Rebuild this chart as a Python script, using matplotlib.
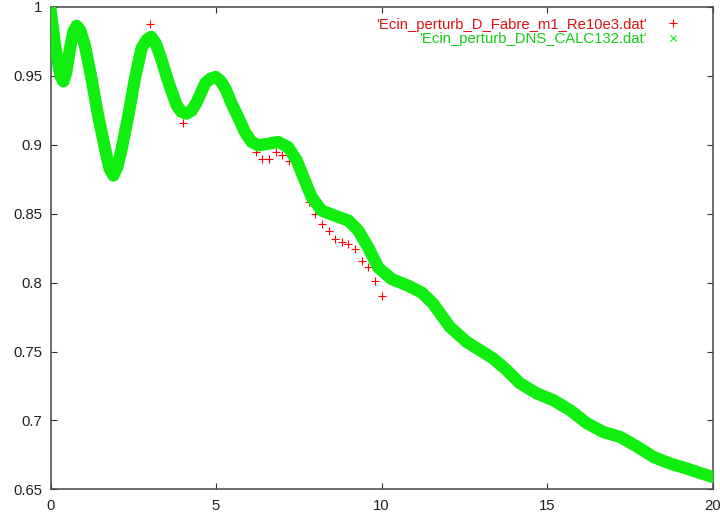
import matplotlib
matplotlib.use("Agg")
import matplotlib.pyplot as plt
from matplotlib.lines import Line2D

# ---------------- data ----------------
fabre_x = [0.0, 0.2, 0.4, 0.6, 0.8, 1.0, 1.2, 1.4, 1.6, 1.8,
           2.0, 2.2, 2.4, 2.6, 2.8, 3.0, 3.2, 3.4, 3.6, 3.8,
           4.0, 4.2, 4.4, 4.6, 4.8, 5.0, 5.2, 5.4, 5.6, 5.8,
           6.0, 6.2, 6.4, 6.6, 6.8, 7.0, 7.2, 7.4, 7.6, 7.8,
           8.0, 8.2, 8.4, 8.6, 8.8, 9.0, 9.2, 9.4, 9.6, 9.8, 10.0]
fabre_y = [1.000, 0.962, 0.946, 0.970, 0.9864, 0.975, 0.953, 0.926, 0.902, 0.882,
           0.884, 0.902, 0.927, 0.953, 0.972, 0.9876, 0.971, 0.958, 0.943, 0.929,
           0.9158, 0.924, 0.931, 0.941, 0.948, 0.949, 0.943, 0.934, 0.922, 0.913,
           0.904, 0.8947, 0.8899, 0.8899, 0.8947, 0.8923, 0.8886, 0.888, 0.877, 0.8583,
           0.8499, 0.8426, 0.8377, 0.8317, 0.8292, 0.828, 0.8244, 0.8159, 0.811, 0.8008, 0.7904]

dns_x = [0.0, 0.14, 0.30, 0.39, 0.48, 0.59, 0.69, 0.79, 0.90, 1.04,
         1.24, 1.44, 1.65, 1.78, 1.90, 2.02, 2.15, 2.35, 2.55, 2.75,
         2.90, 3.04, 3.17, 3.31, 3.56, 3.81, 3.95, 4.11, 4.27, 4.42,
         4.67, 4.83, 4.99, 5.15, 5.30, 5.47, 5.67, 5.88, 6.08, 6.28,
         6.58, 6.88, 7.18, 7.44, 7.64, 7.89, 8.19, 8.59, 9.00, 9.30,
         9.60, 9.90, 10.31, 10.81, 11.21, 11.55, 12.06, 12.57, 12.97, 13.37,
         13.78, 14.18, 14.69, 15.19, 15.70, 16.20, 16.70, 17.21, 17.72, 18.22,
         18.73, 19.23, 19.60, 20.0]
dns_y = [0.998, 0.972, 0.950, 0.946, 0.953, 0.970, 0.982, 0.9864, 0.983, 0.972,
         0.948, 0.921, 0.897, 0.883, 0.8777, 0.884, 0.897, 0.921, 0.948, 0.970,
         0.976, 0.9784, 0.974, 0.965, 0.9457, 0.9287, 0.924, 0.9226, 0.925, 0.931,
         0.9445, 0.948, 0.9493, 0.946, 0.940, 0.930, 0.920, 0.909, 0.902, 0.8996,
         0.9008, 0.902, 0.8983, 0.8886, 0.8765, 0.862, 0.8523, 0.8486, 0.845, 0.8377,
         0.8255, 0.811, 0.8025, 0.7977, 0.7928, 0.785, 0.768, 0.757, 0.751, 0.745,
         0.7365, 0.727, 0.7196, 0.7147, 0.7074, 0.698, 0.6916, 0.688, 0.681, 0.6734,
         0.6686, 0.665, 0.662, 0.659]

labels = ["'Ecin_perturb_D_Fabre_m1_Re10e3.dat'", "'Ecin_perturb_DNS_CALC132.dat'"]
xticks = [0, 5, 10, 15, 20]
xticklabels = ["0", "5", "10", "15", "20"]
yticks = [0.65, 0.7, 0.75, 0.8, 0.85, 0.9, 0.95, 1.0]
yticklabels = ["0.65", "0.7", "0.75", "0.8", "0.85", "0.9", "0.95", "1"]

# ---------------- style ----------------
RED = "#ff0000"
GREEN = "#10ee10"
FS = 10.7
plt.rcParams['font.family'] = ['Liberation Sans', 'DejaVu Sans']

fig = plt.figure(figsize=(7.2, 5.15), dpi=100)
W, H = 720.0, 515.0
L, R, T, B = 50.5, 712.5, 7.0, 489.3
ax = fig.add_axes([L / W, 1 - B / H, (R - L) / W, (B - T) / H])

ax.plot(fabre_x, fabre_y, ls='none', marker='+', ms=5.5, mew=0.8,
        color=RED, zorder=2)
ax.plot(dns_x, dns_y, ls='-', lw=8.8, color=GREEN, solid_capstyle='round',
        solid_joinstyle='round', zorder=3)

ax.set_xlim(0, 20)
ax.set_ylim(0.65, 1.0)
ax.set_xticks(xticks)
ax.set_xticklabels(xticklabels)
ax.set_yticks(yticks)
ax.set_yticklabels(yticklabels)
ax.tick_params(direction='in', length=4.5, width=0.8, colors='#333333',
               labelcolor='#222222', labelsize=FS, top=True, right=True,
               pad=6)
ax.tick_params(axis='x', pad=7)
for s in ax.spines.values():
    s.set_color('#444444')
    s.set_linewidth(1.1)

handles = [Line2D([], [], ls='none', marker='+', ms=5.5, mew=0.8, color=RED),
           Line2D([], [], ls='none', marker='x', ms=4.5, mew=0.8, color=GREEN)]
leg = ax.legend(handles, labels, loc='upper right', frameon=False,
                markerfirst=False, fontsize=FS, handlelength=1.0,
                handletextpad=1.27, borderpad=0, borderaxespad=0,
                labelspacing=0.03,
                bbox_to_anchor=(680.7 / W, 1 - 17.5 / H),
                bbox_transform=fig.transFigure)
leg.get_texts()[0].set_color('#dd1111')
leg.get_texts()[1].set_color('#11cc11')

fig.savefig("out.png", dpi=100)
